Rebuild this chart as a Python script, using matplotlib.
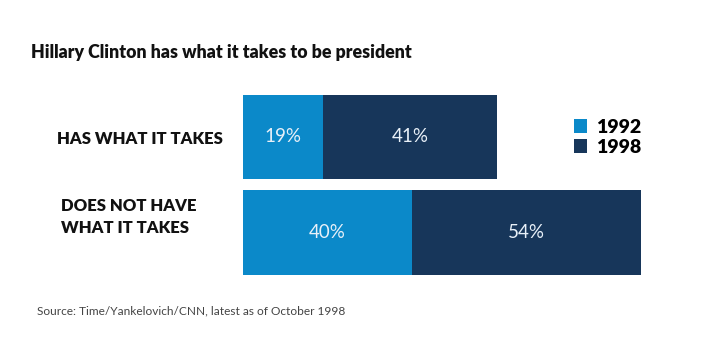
import matplotlib
matplotlib.use("Agg")
import matplotlib.pyplot as plt
from matplotlib.patches import Patch

# Poll data (percent)
categories = ["HAS WHAT IT TAKES", "DOES NOT HAVE\nWHAT IT TAKES"]
years = ["1992", "1998"]
values_1992 = [19, 40]
values_1998 = [41, 54]
colors = ["#0b89c9", "#17365a"]

plt.rcParams["font.family"] = ["Lato", "DejaVu Sans"]

fig = plt.figure(figsize=(7.2, 3.48), dpi=100)
ax = fig.add_axes([243 / 720, 1 - 280.25 / 348, 423 / 720, 191 / 348])

ypos = list(range(len(categories)))
ax.barh(ypos, values_1992, height=0.89, color=colors[0], linewidth=0)
ax.barh(ypos, values_1998, left=values_1992, height=0.89, color=colors[1], linewidth=0)

# value labels centred in each segment
for y, a, b in zip(ypos, values_1992, values_1998):
    ax.text(a / 2, y, f"{a}%", ha="center", va="center", color="#e8f0f8",
            fontsize=13.5, fontweight="normal")
    ax.text(a + b / 2, y, f"{b}%", ha="center", va="center", color="#e8f0f8",
            fontsize=13.5, fontweight="normal")

ax.set_xlim(0, 100)
ax.set_ylim(1.5, -0.5)
ax.axis("off")

# category labels on the left
label_x = [57 / 720, 61 / 720]
label_y = [1 - 139 / 348, 1 - 217 / 348]
for lab, lx, ly in zip(categories, label_x, label_y):
    fig.text(lx, ly, lab, ha="left", va="center",
             fontsize=12, fontweight="heavy", linespacing=1.4, color="#111111")

fig.text(31 / 720, 1 - 58 / 348, "Hillary Clinton has what it takes to be president",
         ha="left", va="baseline", fontsize=12.8, fontweight="heavy", color="#111111")

handles = [Patch(facecolor=c, edgecolor="none") for c in colors]
leg = fig.legend(handles, years, loc="upper left",
                 bbox_to_anchor=(564 / 720, 1 - 109 / 348), frameon=False,
                 handlelength=0.7, handleheight=0.7, handletextpad=0.45,
                 labelspacing=0.15, borderpad=0,
                 prop={"family": ["Lato", "DejaVu Sans"], "weight": "heavy", "size": 14})

fig.text(37 / 720, 1 - 314 / 348, "Source: Time/Yankelovich/CNN, latest as of October 1998",
         ha="left", va="baseline", fontsize=8.6, fontweight="normal", color="#444444")

fig.savefig("out.png", dpi=100, facecolor="white")
